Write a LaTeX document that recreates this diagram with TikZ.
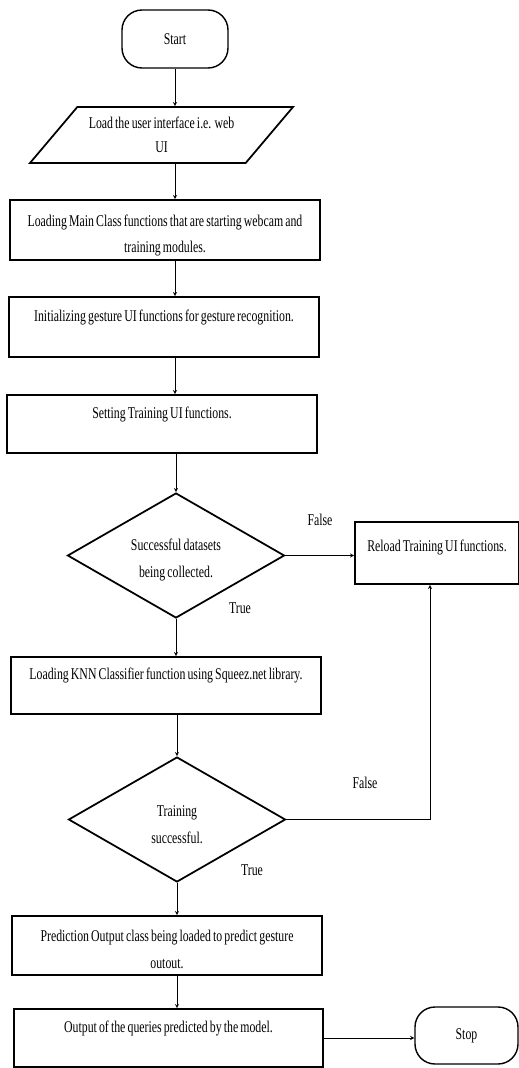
\documentclass[tikz,border=0pt]{standalone}
\usepackage{fontspec}
\setmainfont{Liberation Serif}[FakeStretch=0.72, WordSpace=0.72]
\usetikzlibrary{arrows,shapes}
\tikzstyle{block} = [rectangle, draw, line width=1.5pt, text width=9cm, align=flush center, minimum width=9.3cm, minimum height=1.8cm, text height=0.3cm, text depth=0.66cm, font=\fontsize{14}{23}\selectfont]
\tikzstyle{terminal} = [rectangle, draw, line width=1.2pt, rounded corners=0.6cm, minimum width=3.18cm, minimum height=1.74cm, font=\fontsize{14}{23}\selectfont]
\tikzstyle{inout} = [trapezium, trapezium left angle=43, trapezium right angle=137, trapezium stretches body, draw, line width=1.5pt, align=center, minimum width=7.89cm, minimum height=1.68cm, font=\fontsize{14}{21}\selectfont]
\tikzstyle{decision} = [diamond, draw, line width=1.5pt, align=center, shape aspect=1.74, text height=1.45cm, minimum width=6.51cm, minimum height=3.75cm, font=\fontsize{14}{23}\selectfont]
\tikzstyle{tag} = [font=\fontsize{14}{16}\selectfont]
\tikzstyle{conn} = [draw, line width=0.6pt, ->]

\begin{document}
\begin{tikzpicture}[>=stealth]
   \useasboundingbox (0,0) rectangle (15.57,-32.04);
   % nodes
   \node[terminal] (start) at (5.25,-1.17) {Start};
   \node[inout] (load) at (4.845,-4.05) {Load the user interface i.e. web\\UI};
   \node[block, text depth=0.54cm] (mainclass) at (4.95,-6.9) {Loading Main Class functions that are starting webcam and\\training modules.};
   \node[block] (gestureui) at (4.92,-9.81) {Initializing gesture UI functions for gesture recognition.};
   \node[block, minimum height=1.74cm] (trainui) at (4.86,-12.72) {Setting Training UI functions.};
   \node[decision] (datasets) at (5.28,-16.665) {Successful datasets\\being collected.};
   \node[block, text width=4.6cm, minimum width=4.92cm, minimum height=1.86cm, text depth=0.42cm] (reload) at (13.11,-16.59) {Reload Training UI functions.};
   \node[block, minimum height=1.71cm] (knn) at (4.98,-20.565) {Loading KNN Classifier function using Squeez.net library.};
   \node[decision] (trained) at (5.31,-24.585) {Training\\successful.};
   \node[block, minimum height=1.77cm, text depth=0.54cm] (predict) at (5.01,-28.365) {Prediction Output class being loaded to predict gesture\\outout.};
   \node[block, minimum width=9.27cm, minimum height=1.74cm] (output) at (5.055,-31.14) {Output of the queries predicted by the model.};
   \node[terminal, minimum width=3.09cm, minimum height=1.71cm] (stop) at (13.995,-31.065) {Stop};
   \coordinate (bend) at (12.9,-24.585);

   % branch labels
   \node[tag] (false1) at (9.6,-15.6) {False};
   \node[tag] (true1) at (7.2,-18.24) {True};
   \node[tag] (false2) at (10.95,-23.49) {False};
   \node[tag] (true2) at (7.56,-26.1) {True};

   % edges
   \draw[conn] (start.south) -- (start.south |- load.north);
   \draw[conn] (load.south -| start) -- (mainclass.north -| start);
   \draw[conn] (mainclass.south -| start) -- (gestureui.north -| start);
   \draw[conn] (gestureui.south -| start) -- (trainui.north -| start);
   \draw[conn] (trainui.south -| datasets) -- (datasets.north);
   \draw[conn] (datasets.east) -- (datasets.east -| reload.west);
   \draw[conn] (datasets.south) -- (datasets.south |- knn.north);
   \draw[conn] (knn.south -| trained) -- (trained.north);
   \draw[conn] (trained.east) -- (bend) -- (bend |- reload.south);
   \draw[conn] (trained.south) -- (trained.south |- predict.north);
   \draw[conn] (predict.south -| trained) -- (output.north -| trained);
   \draw[conn] (output.east) -- (output.east -| stop.west);
\end{tikzpicture}
\end{document}
